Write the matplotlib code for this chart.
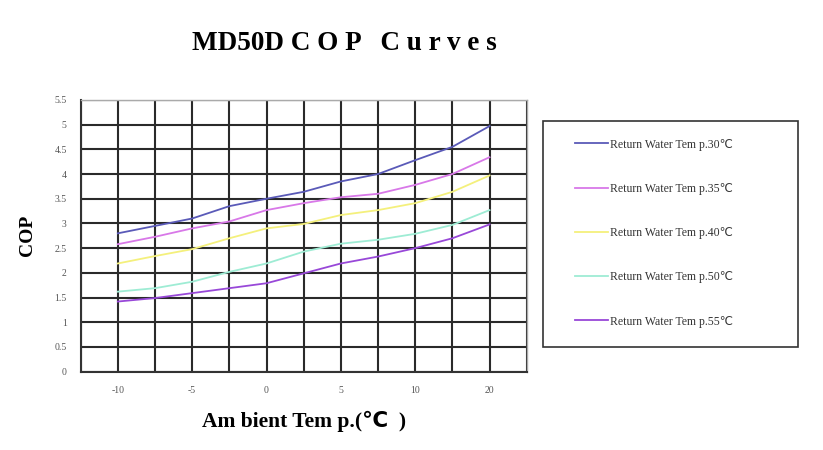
import numpy as np
import matplotlib.pyplot as plt
from matplotlib.patches import Rectangle

# ambient temperature categories (every other gridline is labelled)
tick_labels = ['-10', '-5', '0', '5', '10', '20']
pos = np.arange(0, 5.01, 0.5)

cop_30 = [2.80, 2.95, 3.10, 3.35, 3.50, 3.64, 3.85, 4.00, 4.28, 4.55, 4.97]
cop_35 = [2.58, 2.73, 2.90, 3.04, 3.27, 3.41, 3.53, 3.60, 3.78, 4.00, 4.34]
cop_40 = [2.19, 2.34, 2.48, 2.70, 2.90, 2.99, 3.17, 3.27, 3.41, 3.64, 3.97]
cop_50 = [1.62, 1.69, 1.82, 2.02, 2.19, 2.43, 2.59, 2.67, 2.79, 2.97, 3.27]
cop_55 = [1.42, 1.49, 1.59, 1.69, 1.79, 1.99, 2.19, 2.33, 2.50, 2.70, 2.98]

series = [cop_30, cop_35, cop_40, cop_50, cop_55]
names = ['Return Water Tem p.30\u2103', 'Return Water Tem p.35\u2103',
         'Return Water Tem p.40\u2103', 'Return Water Tem p.50\u2103',
         'Return Water Tem p.55\u2103']
colors = ['#5a5ab8', '#d878e8', '#f4f07c', '#9eecd4', '#9848d8']

serif = ['Liberation Serif', 'DejaVu Sans']
plt.rcParams['font.family'] = serif

fig = plt.figure(figsize=(8.23, 4.5), dpi=100)
ax = fig.add_axes([0.098, 0.174, 0.542, 0.604])

for ys, name, c in zip(series, names, colors):
    ax.plot(pos, ys, color=c, lw=1.3, label=name, zorder=3)

ax.set_xlim(-0.5, 5.5)
ax.set_ylim(0, 5.5)
ax.set_xticks(np.arange(0, 6))
ax.set_xticklabels(tick_labels)
ax.set_xticks(np.arange(-0.5, 5.51, 0.5), minor=True)
yt = np.arange(0, 5.51, 0.5)
ax.set_yticks(yt)
ax.set_yticklabels(['%g' % v for v in yt])
ax.grid(True, which='both', color='#2a2a2a', lw=1.5)
ax.set_axisbelow(True)
ax.tick_params(which='both', length=0, labelsize=7, labelcolor='#555555')
ax.tick_params(axis='y', pad=10)
ax.tick_params(axis='x', pad=10)
for s in ['left', 'bottom']:
    ax.spines[s].set_color('#333333')
    ax.spines[s].set_linewidth(1.5)
for s in ['top', 'right']:
    ax.spines[s].set_color('#aaaaaa')
    ax.spines[s].set_linewidth(1.0)

ax.set_ylabel('COP', fontsize=14, fontweight='bold', labelpad=13)
ax.set_xlabel('Am bient Tem p.(\u2103  )', fontsize=15.5, fontweight='bold', labelpad=12)

fig.text(0.419, 0.903, 'MD50D C O P   C u r v e s', fontsize=19.5, fontweight='bold',
         ha='center', va='center')

# legend box drawn separately, entries placed inside it
fig.patches.append(Rectangle((543 / 823, 1 - 347 / 450), 255 / 823, 226 / 450,
                             transform=fig.transFigure, fill=False,
                             edgecolor='#333333', lw=1.2))
leg = fig.legend(loc='upper left', bbox_to_anchor=(0.699, 0.692),
                 fontsize=8.5, labelspacing=2.73, borderpad=0,
                 handlelength=2.8, handletextpad=0.1, borderaxespad=0,
                 frameon=False)
for t in leg.get_texts():
    t.set_color('#333333')

fig.savefig('out.png', dpi=100)
